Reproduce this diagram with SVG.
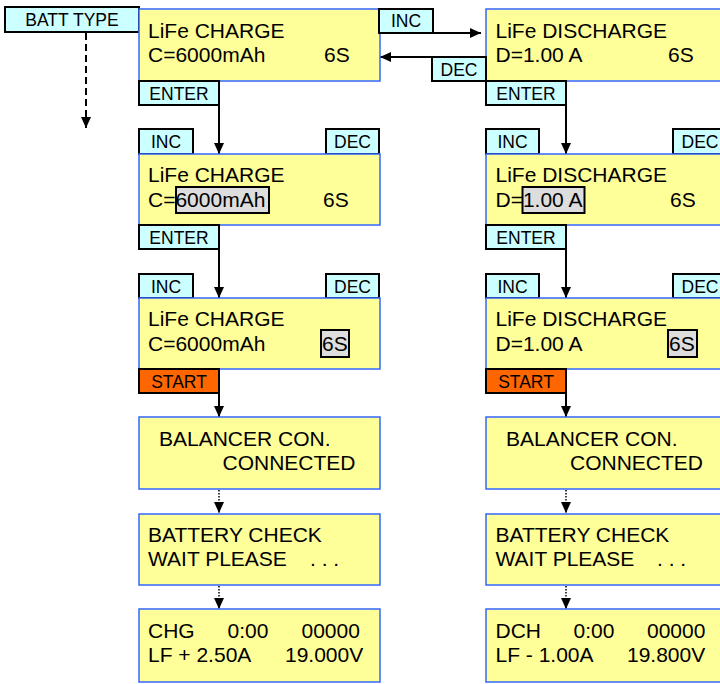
<svg xmlns="http://www.w3.org/2000/svg" width="720" height="684" viewBox="0 0 720 684">
<defs>
<style>
.scr{fill:#FFFF99;stroke:#3366FF;stroke-width:1.5}
.btn{fill:#CCFFFF;stroke:#000;stroke-width:2}
.start{fill:#FF6600;stroke:#000;stroke-width:2}
.hl{fill:#DDDDDD;stroke:#000;stroke-width:2}
.t{font-family:"Liberation Sans",Arial,sans-serif;font-size:21px;fill:#000}
.b{font-family:"Liberation Sans",Arial,sans-serif;font-size:17.5px;fill:#000;text-anchor:middle}
.ln{stroke:#000;stroke-width:2;fill:none}
.dash{stroke-dasharray:7,4}
.dot{stroke-width:1.5;stroke-dasharray:1.5,1.5}
</style>
<marker id="ah" markerUnits="userSpaceOnUse" markerWidth="11" markerHeight="10" refX="11" refY="5" orient="auto" viewBox="0 0 11 10">
<path d="M0,0 L11,5 L0,10 Z" fill="#000"/>
</marker>
</defs>

<g id="connectors">
<line class="ln dash" x1="86" y1="33" x2="86" y2="128" marker-end="url(#ah)"/>
<line class="ln" x1="433" y1="33" x2="481" y2="33" marker-end="url(#ah)"/>
<line class="ln" x1="432" y1="57" x2="380" y2="57" marker-end="url(#ah)"/>
<line class="ln" x1="219" y1="105" x2="219" y2="154" marker-end="url(#ah)"/>
<line class="ln" x1="219" y1="249" x2="219" y2="298" marker-end="url(#ah)"/>
<line class="ln" x1="219" y1="393" x2="219" y2="417" marker-end="url(#ah)"/>
<line class="ln dot" x1="219" y1="490" x2="219" y2="513" marker-end="url(#ah)"/>
<line class="ln dot" x1="219" y1="586" x2="219" y2="609" marker-end="url(#ah)"/>
<line class="ln" x1="566" y1="105" x2="566" y2="154" marker-end="url(#ah)"/>
<line class="ln" x1="566" y1="249" x2="566" y2="298" marker-end="url(#ah)"/>
<line class="ln" x1="566" y1="393" x2="566" y2="417" marker-end="url(#ah)"/>
<line class="ln dot" x1="566" y1="490" x2="566" y2="513" marker-end="url(#ah)"/>
<line class="ln dot" x1="566" y1="586" x2="566" y2="609" marker-end="url(#ah)"/>
</g>

<g id="batt-type">
<rect class="btn" x="5" y="7" width="134" height="25"/>
<text class="b" x="72" y="26">BATT TYPE</text>
</g>

<!-- Left column -->
<g id="charge-1">
<rect class="scr" x="139" y="9" width="241" height="72"/>
<text class="t" x="148" y="37.5">LiFe CHARGE</text>
<text class="t" x="148" y="61.5">C=6000mAh</text>
<text class="t" x="324" y="61.5">6S</text>
</g>
<g id="inc-1">
<rect class="btn" x="379" y="9" width="54" height="24"/>
<text class="b" x="406" y="27">INC</text>
</g>
<g id="enter-c1">
<rect class="btn" x="139" y="81" width="80" height="24"/>
<text class="b" x="179" y="99.5">ENTER</text>
</g>

<g id="inc-c2"><rect class="btn" x="139" y="129" width="54" height="25"/><text class="b" x="166" y="148">INC</text></g>
<g id="dec-c2"><rect class="btn" x="326" y="129" width="53" height="25"/><text class="b" x="352.5" y="148">DEC</text></g>
<g id="charge-2">
<rect class="scr" x="139" y="154" width="241" height="71"/>
<rect class="hl" x="176" y="187" width="93" height="26"/>
<text class="t" x="148" y="182">LiFe CHARGE</text>
<text class="t" x="148" y="206.5">C=6000mAh</text>
<text class="t" x="323" y="206.5">6S</text>
</g>
<g id="enter-c2">
<rect class="btn" x="139" y="225" width="80" height="24"/>
<text class="b" x="179" y="243.5">ENTER</text>
</g>

<g id="inc-c3"><rect class="btn" x="139" y="274" width="54" height="24"/><text class="b" x="166" y="292.5">INC</text></g>
<g id="dec-c3"><rect class="btn" x="326" y="274" width="53" height="24"/><text class="b" x="352.5" y="292.5">DEC</text></g>
<g id="charge-3">
<rect class="scr" x="139" y="298" width="241" height="71"/>
<rect class="hl" x="321" y="330" width="28" height="27"/>
<text class="t" x="148" y="326">LiFe CHARGE</text>
<text class="t" x="148" y="350.5">C=6000mAh</text>
<text class="t" x="322" y="350.5">6S</text>
</g>
<g id="start-c">
<rect class="start" x="139" y="369" width="80" height="24"/>
<text class="b" x="179" y="387.5">START</text>
</g>

<g id="balancer-c">
<rect class="scr" x="139" y="417" width="241" height="72"/>
<text class="t" x="159" y="445.5">BALANCER CON.</text>
<text class="t" x="222.5" y="470">CONNECTED</text>
</g>
<g id="check-c">
<rect class="scr" x="139" y="514" width="241" height="71"/>
<text class="t" x="148" y="541.5">BATTERY CHECK</text>
<text class="t" x="148" y="565.5">WAIT PLEASE</text>
<text class="t" x="310" y="565.5">. . .</text>
</g>
<g id="run-c">
<rect class="scr" x="139" y="609" width="241" height="73"/>
<text class="t" x="148" y="638">CHG</text>
<text class="t" x="227.5" y="638">0:00</text>
<text class="t" x="301.5" y="638">00000</text>
<text class="t" x="148" y="662">LF + 2.50A</text>
<text class="t" x="285" y="662">19.000V</text>
</g>

<!-- Right column -->
<g id="discharge-1">
<rect class="scr" x="486" y="9" width="241" height="72"/>
<text class="t" x="495.5" y="37.5">LiFe DISCHARGE</text>
<text class="t" x="495.5" y="61.5">D=1.00 A</text>
<text class="t" x="668" y="61.5">6S</text>
</g>
<g id="dec-1">
<rect class="btn" x="432" y="57" width="54" height="24"/>
<text class="b" x="459" y="75.5">DEC</text>
</g>
<g id="enter-d1">
<rect class="btn" x="486" y="81" width="80" height="24"/>
<text class="b" x="526" y="99.5">ENTER</text>
</g>

<g id="inc-d2"><rect class="btn" x="486" y="129" width="53" height="25"/><text class="b" x="512.5" y="148">INC</text></g>
<g id="dec-d2"><rect class="btn" x="673" y="129" width="54" height="25"/><text class="b" x="700" y="148">DEC</text></g>
<g id="discharge-2">
<rect class="scr" x="486" y="154" width="241" height="71"/>
<rect class="hl" x="522.5" y="187" width="62" height="26"/>
<text class="t" x="495.5" y="182">LiFe DISCHARGE</text>
<text class="t" x="495.5" y="206.5">D=1.00 A</text>
<text class="t" x="670" y="206.5">6S</text>
</g>
<g id="enter-d2">
<rect class="btn" x="486" y="225" width="80" height="24"/>
<text class="b" x="526" y="243.5">ENTER</text>
</g>

<g id="inc-d3"><rect class="btn" x="486" y="274" width="53" height="24"/><text class="b" x="512.5" y="292.5">INC</text></g>
<g id="dec-d3"><rect class="btn" x="673" y="274" width="54" height="24"/><text class="b" x="700" y="292.5">DEC</text></g>
<g id="discharge-3">
<rect class="scr" x="486" y="298" width="241" height="71"/>
<rect class="hl" x="668" y="330" width="29" height="27"/>
<text class="t" x="495.5" y="326">LiFe DISCHARGE</text>
<text class="t" x="495.5" y="350.5">D=1.00 A</text>
<text class="t" x="669" y="350.5">6S</text>
</g>
<g id="start-d">
<rect class="start" x="486" y="369" width="80" height="24"/>
<text class="b" x="526" y="387.5">START</text>
</g>

<g id="balancer-d">
<rect class="scr" x="486" y="417" width="241" height="72"/>
<text class="t" x="506" y="445.5">BALANCER CON.</text>
<text class="t" x="570" y="470">CONNECTED</text>
</g>
<g id="check-d">
<rect class="scr" x="486" y="514" width="241" height="71"/>
<text class="t" x="495.5" y="541.5">BATTERY CHECK</text>
<text class="t" x="495.5" y="565.5">WAIT PLEASE</text>
<text class="t" x="657" y="565.5">. . .</text>
</g>
<g id="run-d">
<rect class="scr" x="486" y="609" width="241" height="73"/>
<text class="t" x="495.5" y="638">DCH</text>
<text class="t" x="573.5" y="638">0:00</text>
<text class="t" x="647" y="638">00000</text>
<text class="t" x="495.5" y="662">LF - 1.00A</text>
<text class="t" x="627" y="662">19.800V</text>
</g>
</svg>
